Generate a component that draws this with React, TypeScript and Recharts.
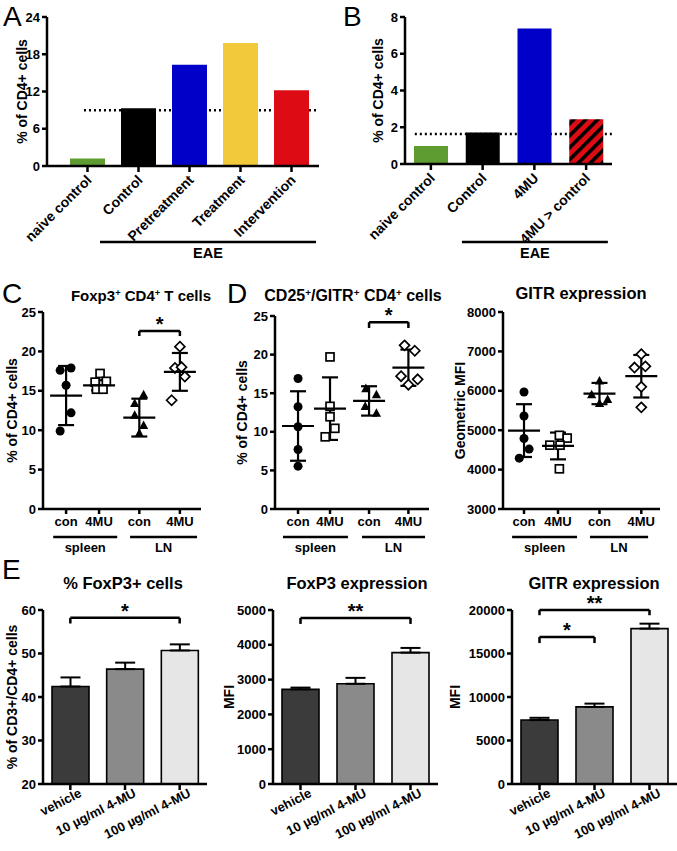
import React from "react";
import {
  BarChart,
  Bar,
  Cell,
  ScatterChart,
  Scatter,
  XAxis,
  YAxis,
  ErrorBar,
  ReferenceLine,
} from "recharts";

const FONT = '"Liberation Sans", Arial, Helvetica, sans-serif';
const INK = "#000";

// ---- Panel A: % of CD4+ cells, EAE groups ----
const aCategories = ["naive control", "Control", "Pretreatment", "Treatment", "Intervention"];
const aValues = [1.2, 9.3, 16.3, 19.8, 12.2];
const aColors = ["#5e9b30", "#000000", "#0000c8", "#f1c93a", "#dc0b14"];
const aReference = 9.0;
const aTicks = [0, 6, 12, 18, 24];

// ---- Panel B ----
const bCategories = ["naive control", "Control", "4MU", "4MU > control"];
const bValues = [0.98, 1.72, 7.37, 2.43];
const bColors = ["#5e9b30", "#000000", "#0000c8", "url(#hatchRed)"];
const bReference = 1.63;
const bTicks = [0, 2, 4, 6, 8];

// ---- Panels C / D: four columns, grouped by tissue ----
const columnLabels = ["con", "4MU", "con", "4MU"];
const columnPositions = [1, 2, 3.22, 4.45];
const columnMarkers = ["circle", "square", "triangle", "diamond"];

// C: Foxp3+ CD4+ T cells (% of CD4+)
const cValues = [
  [17.6, 17.9, 15.7, 12.2, 9.9],
  [17.2, 16.2, 16.1, 15.2, 15.2],
  [14.5, 13.4, 11.9, 10.6, 9.6],
  [20.6, 17.9, 18.0, 16.8, 13.8],
];
const cJitter = [
  [-0.18, 0.15, 0, 0.15, -0.18],
  [0.03, 0.22, -0.12, -0.08, 0.12],
  [0.13, -0.14, -0.14, 0.13, 0],
  [0, -0.15, 0.05, 0.15, -0.25],
];
const cMeans = [14.4, 15.7, 11.6, 17.4];
const cSds = [3.75, 0.65, 2.4, 2.4];

// D left: CD25+/GITR+ CD4+ cells
const d1Values = [
  [16.9, 13.25, 10.65, 7.7, 5.55],
  [19.7, 13.3, 11.95, 10.45, 9.35],
  [15.6, 14.8, 13.3, 12.4],
  [21.2, 20.5, 17.2, 16.8, 16.1],
];
const d1Jitter = [
  [0, 0, 0, 0, 0],
  [0, 0, 0, 0.15, -0.15],
  [-0.1, 0.23, -0.12, 0.23],
  [-0.12, 0.2, -0.23, 0.29, 0],
];
const d1Means = [10.75, 13.0, 14.0, 18.3];
const d1Sds = [4.5, 4.05, 1.9, 2.35];

// D right: GITR expression (geometric MFI)
const d2Values = [
  [5970, 5360, 4790, 4520, 4290],
  [4870, 4800, 4620, 4620, 4020],
  [6250, 5900, 5780, 5680],
  [6930, 6590, 6620, 6100, 5580],
];
const d2Jitter = [
  [0, 0, 0, 0.15, -0.14],
  [0.04, 0.27, -0.24, 0.06, 0.04],
  [0, -0.23, 0.24, 0],
  [0, -0.2, 0.12, 0, 0],
];
const d2Means = [4990, 4600, 5930, 6370];
const d2Sds = [670, 340, 270, 540];

// ---- Panel E: in vitro 4-MU ----
const eCategories = ["vehicle", "10 µg/ml 4-MU", "100 µg/ml 4-MU"];
const eFoxp3Pct = [42.4, 46.4, 50.7];
const eFoxp3PctErr = [2.1, 1.5, 1.4];
const eFoxp3Mfi = [2720, 2880, 3775];
const eFoxp3MfiErr = [50, 170, 135];
const eGitrMfi = [7350, 8860, 17860];
const eGitrMfiErr = [260, 380, 570];
const eColors = ["#3b3b3b", "#8a8a8a", "#e6e6e6"];

const axisLine = { stroke: INK, strokeWidth: 2.5 };
const tickLine = { stroke: INK, strokeWidth: 2.5 };
const tickText = { fill: INK, fontSize: 13 };

function yLabel(value: string, offset: number) {
  return {
    value,
    angle: -90,
    position: "insideLeft" as const,
    offset,
    fill: INK,
    fontSize: 14,
    style: { textAnchor: "middle" as const },
  };
}

function SlantTick(props: any) {
  const { x, y, payload, angle, sx, sy, size } = props;
  const px = x + sx;
  const py = y + sy;
  return (
    <text x={px} y={py} transform={`rotate(${angle} ${px} ${py})`} textAnchor="end" fontSize={size} fill={INK}>
      {payload.value}
    </text>
  );
}

function Marker({ cx, cy, kind }: { cx: number; cy: number; kind: string }) {
  if (kind === "circle") return <circle cx={cx} cy={cy} r={4.5} fill={INK} />;
  if (kind === "square")
    return <rect x={cx - 4} y={cy - 4} width={8} height={8} fill="#fff" stroke={INK} strokeWidth={1.7} />;
  if (kind === "triangle")
    return <path d={`M${cx},${cy - 5} L${cx + 4.6},${cy + 3.6} L${cx - 4.6},${cy + 3.6} Z`} fill={INK} />;
  return (
    <path
      d={`M${cx},${cy - 5} L${cx + 5},${cy} L${cx},${cy + 5} L${cx - 5},${cy} Z`}
      fill="#fff"
      stroke={INK}
      strokeWidth={1.7}
    />
  );
}

function bracket(key: string, from: any, to: any, y: number, leg: number, text: string) {
  const line = { stroke: INK, strokeWidth: 2.5, ifOverflow: "visible" as const };
  return [
    <ReferenceLine
      key={key + "-top"}
      segment={[{ x: from, y }, { x: to, y }]}
      {...line}
      label={{ value: text, position: "top", offset: 0, fill: INK, fontSize: 20 }}
    />,
    <ReferenceLine key={key + "-l"} segment={[{ x: from, y }, { x: from, y: leg }]} {...line} />,
    <ReferenceLine key={key + "-r"} segment={[{ x: to, y }, { x: to, y: leg }]} {...line} />,
  ];
}

function underline(key: string, from: number, to: number, y: number, text: string, size = 13) {
  return (
    <ReferenceLine
      key={key}
      segment={[{ x: from, y }, { x: to, y }]}
      stroke={INK}
      strokeWidth={2.5}
      ifOverflow="visible"
      label={{ value: text, position: "bottom", offset: 6, fill: INK, fontSize: size }}
    />
  );
}

function MeanShape(p: any) {
  return <line x1={p.cx - 16} x2={p.cx + 16} y1={p.cy} y2={p.cy} stroke={INK} strokeWidth={2.2} />;
}

function ScatterPanel(props: any) {
  const { left, top, width, height, margin, yAxisWidth, xAxisHeight, xDomain, yDomain, yTicks, label, labelOffset } =
    props;
  const groups = props.values.map((vals: number[], g: number) =>
    vals.map((v, i) => ({ x: columnPositions[g] + props.jitter[g][i], y: v }))
  );
  const meanRows = props.means.map((m: number, g: number) => ({ x: columnPositions[g], y: m, sd: props.sds[g] }));
  return (
    <div style={{ position: "absolute", left, top }}>
      <ScatterChart width={width} height={height} margin={margin}>
        <XAxis
          type="number"
          dataKey="x"
          domain={xDomain}
          allowDataOverflow
          ticks={columnPositions}
          interval={0}
          tickFormatter={(_v: any, i: number) => columnLabels[i]}
          height={xAxisHeight}
          axisLine={axisLine}
          tickLine={tickLine}
          tickSize={5}
          tickMargin={3}
          tick={{ fill: INK, fontSize: 13 }}
        />
        <YAxis
          type="number"
          dataKey="y"
          domain={yDomain}
          allowDataOverflow
          ticks={yTicks}
          interval={0}
          width={yAxisWidth}
          axisLine={axisLine}
          tickLine={tickLine}
          tickSize={5}
          tickMargin={2}
          tick={tickText}
          label={yLabel(label, labelOffset)}
        />
        {groups.map((pts: any[], g: number) => (
          <Scatter
            key={g}
            data={pts}
            isAnimationActive={false}
            shape={(s: any) => <Marker cx={s.cx} cy={s.cy} kind={columnMarkers[g]} />}
          />
        ))}
        <Scatter data={meanRows} isAnimationActive={false} shape={MeanShape}>
          <ErrorBar dataKey="sd" direction="y" width={8} stroke={INK} strokeWidth={2.2} />
        </Scatter>
        {props.extras}
      </ScatterChart>
    </div>
  );
}

function EPanel(props: any) {
  const { left, width, marginRight, yAxisWidth, values, errors, yDomain, yTicks, label, labelOffset } = props;
  const rows = eCategories.map((name, i) => ({ name, value: values[i], err: [0, errors[i]] }));
  return (
    <div style={{ position: "absolute", left, top: 580 }}>
      <BarChart width={width} height={266} margin={{ top: 30, right: marginRight, left: 0, bottom: 0 }} data={rows}>
        <XAxis
          dataKey="name"
          height={62}
          interval={0}
          axisLine={axisLine}
          tickLine={tickLine}
          tickSize={6}
          tickMargin={2}
          tick={<SlantTick angle={-27} sx={12} sy={4} size={13} />}
        />
        <YAxis
          type="number"
          domain={yDomain}
          allowDataOverflow
          ticks={yTicks}
          interval={0}
          width={yAxisWidth}
          axisLine={axisLine}
          tickLine={tickLine}
          tickSize={5}
          tickMargin={2}
          tick={tickText}
          label={yLabel(label, labelOffset)}
        />
        <Bar dataKey="value" barSize={37} stroke={INK} strokeWidth={1.6} isAnimationActive={false}>
          {rows.map((r, i) => (
            <Cell key={r.name} fill={eColors[i]} />
          ))}
          <ErrorBar dataKey="err" direction="y" width={10} stroke={INK} strokeWidth={2} />
        </Bar>
        {props.extras}
      </BarChart>
    </div>
  );
}

// Layer under the bar charts of A and B: dotted control level and the EAE bracket line,
// on a numeric position axis measured in band widths from the plot's left edge.
function AnnotationLayer(props: any) {
  const { left, width, height, margin, yAxisWidth, xAxisHeight, posDomain, yDomain, points, dotted, eae } = props;
  return (
    <div style={{ position: "absolute", left, top: 0 }}>
      <ScatterChart width={width} height={height} margin={margin}>
        <XAxis
          type="number"
          dataKey="x"
          domain={posDomain}
          allowDataOverflow
          height={xAxisHeight}
          axisLine={false}
          tickLine={false}
          tick={false}
        />
        <YAxis
          type="number"
          dataKey="y"
          domain={yDomain}
          allowDataOverflow
          width={yAxisWidth}
          axisLine={false}
          tickLine={false}
          tick={false}
        />
        <Scatter data={points} isAnimationActive={false} shape={() => <g />} />
        <ReferenceLine
          segment={[{ x: dotted.from, y: dotted.level }, { x: dotted.to, y: dotted.level }]}
          stroke={INK}
          strokeWidth={2.5}
          strokeDasharray="2 3"
          ifOverflow="visible"
        />
        {underline("eae", eae.from, eae.to, eae.y, "EAE", 14.5)}
      </ScatterChart>
    </div>
  );
}

function Caption({ cx, cy, size, children }: any) {
  return (
    <div
      style={{
        position: "absolute",
        left: cx - 150,
        width: 300,
        top: cy - size * 0.49,
        fontSize: size,
        lineHeight: `${size}px`,
        fontWeight: 700,
        textAlign: "center",
        whiteSpace: "nowrap",
      }}
    >
      {children}
    </div>
  );
}

function Letter({ x, cy, children }: any) {
  return (
    <div style={{ position: "absolute", left: x, top: cy - 16.7, fontSize: 28, lineHeight: "34px", fontWeight: 400 }}>
      {children}
    </div>
  );
}

const Sup = () => <span style={{ fontSize: "0.62em", verticalAlign: "0.55em" }}>+</span>;

export default function App() {
  const aRows = aCategories.map((name, i) => ({ name, value: aValues[i] }));
  const bRows = bCategories.map((name, i) => ({ name, value: bValues[i] }));
  // band centres on the position axis (A has a 15px left padding = 0.294 band)
  const aPoints = aValues.map((v, i) => ({ x: i + 0.794, y: v }));
  const bPoints = bValues.map((v, i) => ({ x: i + 0.5, y: v }));

  return (
    <div
      style={{
        position: "absolute",
        left: 0,
        top: 0,
        width: 677,
        height: 851,
        background: "#fff",
        fontFamily: FONT,
        fontWeight: 700,
        color: INK,
        overflow: "hidden",
      }}
    >
      <Letter x={3} cy={17}>A</Letter>
      <Letter x={343} cy={17}>B</Letter>
      <Letter x={2} cy={294}>C</Letter>
      <Letter x={227} cy={294}>D</Letter>
      <Letter x={2} cy={570}>E</Letter>

      {/* A */}
      <AnnotationLayer
        left={0}
        width={325}
        height={272}
        margin={{ top: 17, right: 6, left: 0, bottom: 0 }}
        yAxisWidth={47}
        xAxisHeight={106}
        posDomain={[0, 5.333]}
        yDomain={[0, 24]}
        points={aPoints}
        dotted={{ from: 0.725, to: 5.275, level: aReference }}
        eae={{ from: 1.039, to: 5.275, y: -12.24 }}
      />
      <div style={{ position: "absolute", left: 0, top: 0 }}>
        <BarChart width={325} height={272} margin={{ top: 17, right: 6, left: 0, bottom: 0 }} data={aRows}>
          <XAxis
            dataKey="name"
            height={106}
            interval={0}
            padding={{ left: 15, right: 2 }}
            axisLine={axisLine}
            tickLine={tickLine}
            tickSize={6}
            tickMargin={2}
            tick={<SlantTick angle={-45} sx={5} sy={7} size={14} />}
          />
          <YAxis
            type="number"
            domain={[0, 24]}
            ticks={aTicks}
            interval={0}
            width={47}
            axisLine={axisLine}
            tickLine={tickLine}
            tickSize={5}
            tickMargin={2}
            tick={tickText}
            label={yLabel("% of CD4+ cells", 22)}
          />
          <Bar dataKey="value" barSize={35} isAnimationActive={false}>
            {aRows.map((r, i) => (
              <Cell key={r.name} fill={aColors[i]} />
            ))}
          </Bar>
        </BarChart>
      </div>

      {/* B */}
      <AnnotationLayer
        left={330}
        width={290}
        height={272}
        margin={{ top: 17, right: 8, left: 0, bottom: 0 }}
        yAxisWidth={75}
        xAxisHeight={108}
        posDomain={[0, 4]}
        yDomain={[0, 8]}
        points={bPoints}
        dotted={{ from: 0.19, to: 4, level: bReference }}
        eae={{ from: 1.1, to: 3.92, y: -4.24 }}
      />
      <div style={{ position: "absolute", left: 330, top: 0 }}>
        <BarChart width={290} height={272} margin={{ top: 17, right: 8, left: 0, bottom: 0 }} data={bRows}>
          <defs>
            <pattern id="hatchRed" patternUnits="userSpaceOnUse" width="8.5" height="8.5" patternTransform="rotate(45)">
              <rect width="8.5" height="8.5" fill="#dc0b14" />
              <rect width="3.6" height="8.5" fill="#000" />
            </pattern>
          </defs>
          <XAxis
            dataKey="name"
            height={108}
            interval={0}
            axisLine={axisLine}
            tickLine={tickLine}
            tickSize={6}
            tickMargin={2}
            tick={<SlantTick angle={-45} sx={5} sy={7} size={14} />}
          />
          <YAxis
            type="number"
            domain={[0, 8]}
            ticks={bTicks}
            interval={0}
            width={75}
            axisLine={axisLine}
            tickLine={tickLine}
            tickSize={5}
            tickMargin={2}
            tick={tickText}
            label={yLabel("% of CD4+ cells", 48)}
          />
          <Bar dataKey="value" barSize={34} isAnimationActive={false}>
            {bRows.map((r, i) => (
              <Cell key={r.name} fill={bColors[i]} />
            ))}
          </Bar>
        </BarChart>
      </div>

      {/* C */}
      <Caption cx={141} cy={293} size={15}>
        Foxp3<Sup /> CD4<Sup /> T cells
      </Caption>
      <ScatterPanel
        left={0}
        top={300}
        width={210}
        height={260}
        margin={{ top: 12, right: 9, left: 0, bottom: 0 }}
        yAxisWidth={43}
        xAxisHeight={51}
        xDomain={[0.3, 5.09]}
        yDomain={[0, 25]}
        yTicks={[0, 5, 10, 15, 20, 25]}
        label="% of CD4+ cells"
        labelOffset={12}
        values={cValues}
        jitter={cJitter}
        means={cMeans}
        sds={cSds}
        extras={[
          ...bracket("c", 3.22, 4.45, 22.6, 21.95, "*"),
          underline("cs", 0.61, 2.55, -3.55, "spleen"),
          underline("cl", 2.94, 4.97, -3.55, "LN"),
        ]}
      />

      {/* D left */}
      <Caption cx={353} cy={293} size={16}>
        CD25<Sup />/GITR<Sup /> CD4<Sup /> cells
      </Caption>
      <ScatterPanel
        left={225}
        top={300}
        width={210}
        height={260}
        margin={{ top: 16, right: 6, left: 0, bottom: 0 }}
        yAxisWidth={50}
        xAxisHeight={51}
        xDomain={[0.28, 5.094]}
        yDomain={[0, 25]}
        yTicks={[0, 5, 10, 15, 20, 25]}
        label="% of CD4+ cells"
        labelOffset={17}
        values={d1Values}
        jitter={d1Jitter}
        means={d1Means}
        sds={d1Sds}
        extras={[
          ...bracket("d1", 3.22, 4.45, 24.2, 23.45, "*"),
          underline("d1s", 0.53, 2.56, -3.63, "spleen"),
          underline("d1l", 3.0, 4.97, -3.63, "LN"),
        ]}
      />

      {/* D right */}
      <Caption cx={581} cy={293} size={16.5}>
        GITR expression
      </Caption>
      <ScatterPanel
        left={445}
        top={300}
        width={225}
        height={260}
        margin={{ top: 12, right: 10, left: 0, bottom: 0 }}
        yAxisWidth={58}
        xAxisHeight={51}
        xDomain={[0.382, 5.0]}
        yDomain={[3000, 8000]}
        yTicks={[3000, 4000, 5000, 6000, 7000, 8000]}
        label="Geometric MFI"
        labelOffset={15}
        values={d2Values}
        jitter={d2Jitter}
        means={d2Means}
        sds={d2Sds}
        extras={[underline("d2s", 0.65, 2.56, 2289, "spleen"), underline("d2l", 2.94, 4.65, 2289, "LN")]}
      />

      {/* E */}
      <Caption cx={123} cy={583} size={16.5}>
        % FoxP3+ cells
      </Caption>
      <Caption cx={357} cy={583} size={16.5}>
        FoxP3 expression
      </Caption>
      <Caption cx={594} cy={583} size={16.5}>
        GITR expression
      </Caption>
      <EPanel
        left={0}
        width={215}
        marginRight={8}
        yAxisWidth={43}
        values={eFoxp3Pct}
        errors={eFoxp3PctErr}
        yDomain={[20, 60]}
        yTicks={[20, 30, 40, 50, 60]}
        label="% of CD3+/CD4+ cells"
        labelOffset={12}
        extras={bracket("e1", "vehicle", "100 µg/ml 4-MU", 58.2, 56.9, "*")}
      />
      <EPanel
        left={220}
        width={225}
        marginRight={7}
        yAxisWidth={53}
        values={eFoxp3Mfi}
        errors={eFoxp3MfiErr}
        yDomain={[0, 5000]}
        yTicks={[0, 1000, 2000, 3000, 4000, 5000]}
        label="MFI"
        labelOffset={9}
        extras={bracket("e2", "vehicle", "100 µg/ml 4-MU", 4770, 4600, "**")}
      />
      <EPanel
        left={440}
        width={237}
        marginRight={0}
        yAxisWidth={72}
        values={eGitrMfi}
        errors={eGitrMfiErr}
        yDomain={[0, 20000]}
        yTicks={[0, 5000, 10000, 15000, 20000]}
        label="MFI"
        labelOffset={15}
        extras={[
          ...bracket("e3a", "vehicle", "100 µg/ml 4-MU", 20000, 19400, "**"),
          ...bracket("e3b", "vehicle", "10 µg/ml 4-MU", 16900, 16200, "*"),
        ]}
      />
    </div>
  );
}
